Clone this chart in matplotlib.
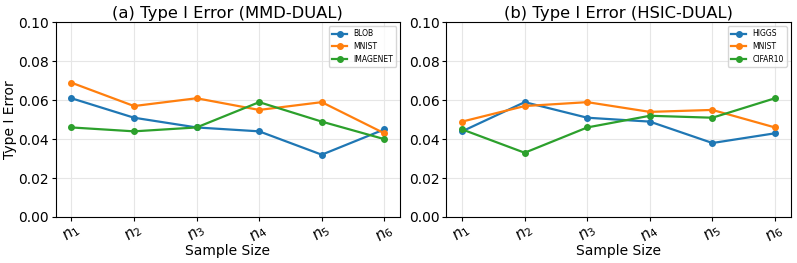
import numpy as np
import matplotlib
matplotlib.use('Agg')
import matplotlib.pyplot as plt

ticks = [r'$n_1$', r'$n_2$', r'$n_3$', r'$n_4$', r'$n_5$', r'$n_6$']

# (a) MMD-DUAL
blob = [0.061, 0.051, 0.046, 0.044, 0.032, 0.045]
mnist_a = [0.069, 0.057, 0.061, 0.055, 0.059, 0.043]
imagenet = [0.046, 0.044, 0.046, 0.059, 0.049, 0.040]

# (b) HSIC-DUAL
higgs = [0.044, 0.059, 0.051, 0.049, 0.038, 0.043]
mnist_b = [0.049, 0.057, 0.059, 0.054, 0.055, 0.046]
cifar10 = [0.045, 0.033, 0.046, 0.052, 0.051, 0.061]

fig, axes = plt.subplots(1, 2, figsize=(7.97, 2.63), dpi=100)
x = np.arange(len(ticks))

panels = [
    (axes[0], '(a) Type I Error (MMD-DUAL)', [('BLOB', blob), ('MNIST', mnist_a), ('IMAGENET', imagenet)]),
    (axes[1], '(b) Type I Error (HSIC-DUAL)', [('HIGGS', higgs), ('MNIST', mnist_b), ('CIFAR10', cifar10)]),
]

for ax, title, series in panels:
    for name, vals in series:
        ax.plot(x, vals, marker='o', markersize=4, linewidth=1.6, label=name)
    ax.set_ylim(0, 0.1)
    ax.set_yticks(np.arange(0, 0.101, 0.02))
    ax.set_xticks(x)
    ax.set_xticklabels(ticks, rotation=35, fontsize=11)
    ax.tick_params(axis='x', pad=1, length=3)
    ax.tick_params(axis='y', labelsize=10, length=3, pad=2)
    ax.grid(True, color='#e6e6e6', linewidth=0.8)
    ax.set_title(title, fontsize=11.8, pad=3)
    ax.set_xlabel('Sample Size', fontsize=10, labelpad=-1)
    ax.legend(loc='upper right', fontsize=5.5)

axes[0].set_ylabel('Type I Error', fontsize=10, labelpad=1)

fig.subplots_adjust(left=0.07, right=0.992, top=0.915, bottom=0.175, wspace=0.135)
fig.savefig('out.png', dpi=100)
